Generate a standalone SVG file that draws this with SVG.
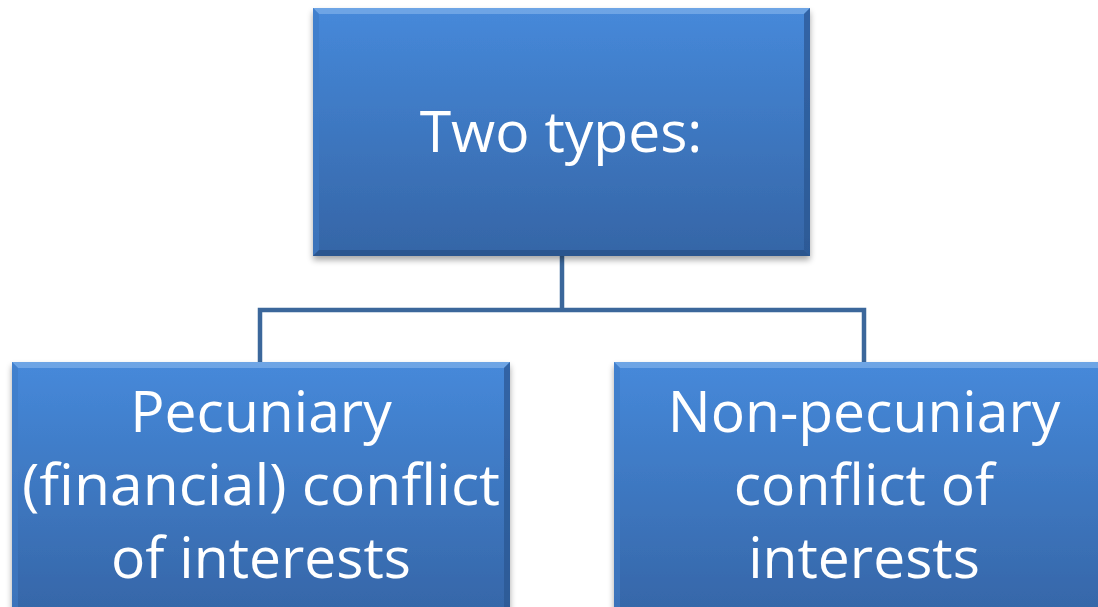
<svg xmlns="http://www.w3.org/2000/svg" width="1098" height="607" viewBox="0 0 1098 607">
<defs>
<linearGradient id="fill" x1="0" y1="0" x2="0" y2="1">
<stop offset="0" stop-color="#4689da"/>
<stop offset="1" stop-color="#3565a6"/>
</linearGradient>
<filter id="sh" x="-10%" y="-10%" width="120%" height="130%">
<feGaussianBlur in="SourceAlpha" stdDeviation="3"/>
<feOffset dx="0" dy="4" result="b"/>
<feComponentTransfer><feFuncA type="linear" slope="0.35"/></feComponentTransfer>
<feMerge><feMergeNode/><feMergeNode in="SourceGraphic"/></feMerge>
</filter>
<style>
.box{fill:url(#fill);}
.bt{fill:#7fb0ea;opacity:0.7;}
.bl{fill:#3f7bc6;opacity:0.6;}
.br{fill:#2a5590;opacity:0.7;}
.bb{fill:#284f85;opacity:0.7;}
.t{font-family:"Open Sans","Liberation Sans",sans-serif;font-size:57px;fill:#ffffff;text-anchor:middle;}
.c{fill:none;stroke:#3b679b;stroke-width:4.5;}
</style>
</defs>
<rect width="1098" height="607" fill="#ffffff"/>
<g id="connectors">
<path class="c" d="M562 256 V310 M260 362 V310 H864 V362"/>
</g>
<g id="top" filter="url(#sh)">
<rect class="box" x="313" y="8" width="497" height="248"/>
<polygon class="bt" points="313,8 810,8 804,14 319,14"/>
<polygon class="bl" points="313,8 319,14 319,250 313,256"/>
<polygon class="br" points="810,8 810,256 804,250 804,14"/>
<polygon class="bb" points="313,256 810,256 804,250 319,250"/>
<text class="t" x="561" y="152">Two types:</text>
</g>
<g id="left" filter="url(#sh)">
<rect class="box" x="12" y="362" width="498" height="260"/>
<polygon class="bt" points="12,362 510,362 504,368 18,368"/>
<polygon class="bl" points="12,362 18,368 18,622 12,622"/>
<polygon class="br" points="510,362 510,622 504,622 504,368"/>
<text class="t" x="261" y="432">Pecuniary</text>
<text class="t" x="261" y="505" textLength="478" lengthAdjust="spacingAndGlyphs">(financial) conflict</text>
<text class="t" x="261" y="578">of interests</text>
</g>
<g id="right" filter="url(#sh)">
<rect class="box" x="614" y="362" width="500" height="260"/>
<polygon class="bt" points="614,362 1114,362 1108,368 620,368"/>
<polygon class="bl" points="614,362 620,368 620,622 614,622"/>
<text class="t" x="864" y="432">Non-pecuniary</text>
<text class="t" x="864" y="505">conflict of</text>
<text class="t" x="864" y="578">interests</text>
</g>
</svg>
